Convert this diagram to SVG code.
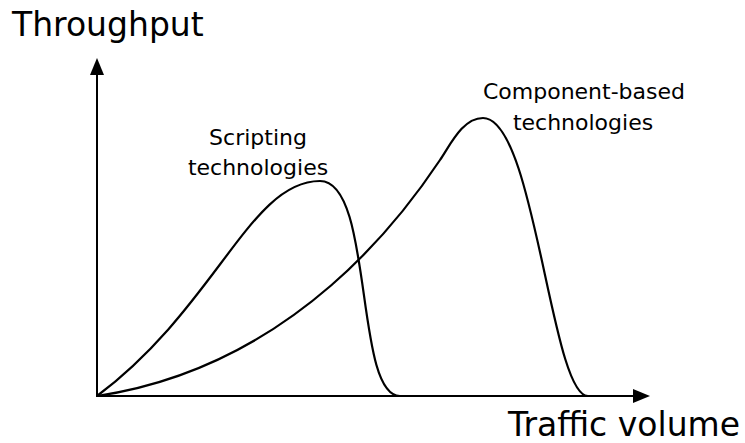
<svg xmlns="http://www.w3.org/2000/svg" width="745" height="443" viewBox="0 0 745 443">
<style>
.t{font-family:"DejaVu Sans","Liberation Sans",sans-serif;fill:#000}
.big{font-size:33px}
.lbl{font-size:22px;text-anchor:middle}
.ax{stroke:#000;stroke-width:2;fill:none}
.cv{stroke:#000;stroke-width:2.2;fill:none}
</style>
<rect width="745" height="443" fill="#fff"/>
<g id="axes">
<line class="ax" x1="97" y1="397" x2="97" y2="70"/>
<polygon points="97,58 90,75 104,75" fill="#000"/>
<line class="ax" x1="96" y1="396" x2="636" y2="396"/>
<polygon points="650,396 633,389 633,403" fill="#000"/>
</g>
<g id="labels">
<text class="t big" x="12" y="36">Throughput</text>
<text class="t big" x="740" y="436" text-anchor="end">Traffic volume</text>
</g>
<g id="scripting">
<path class="cv" d="M97,396 C217,306 250,181 320,181 C374,181 354,396 400,396"/>
<text class="t lbl" x="258" y="145">Scripting</text>
<text class="t lbl" x="258" y="175">technologies</text>
</g>
<g id="component">
<path class="cv" d="M97,396 C297,366 406.7,210 440,160 C451.1,143.4 463,118 483,118 C535,118 551,396 588,396"/>
<text class="t lbl" x="584" y="99">Component-based</text>
<text class="t lbl" x="583" y="130">technologies</text>
</g>
</svg>
